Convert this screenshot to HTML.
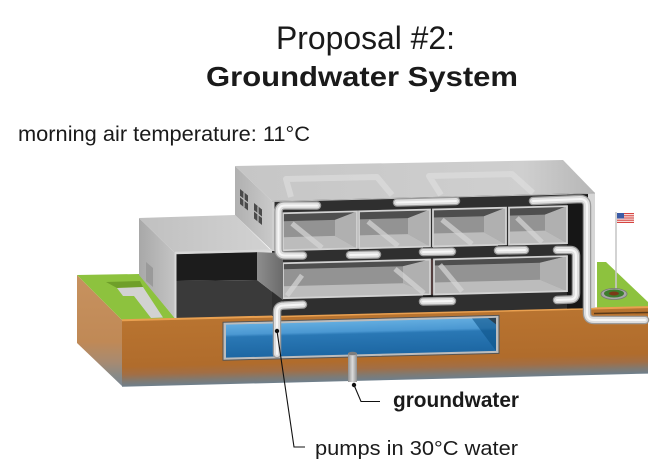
<!DOCTYPE html>
<html><head><meta charset="utf-8">
<style>
html,body{margin:0;padding:0;background:#fff;}
svg{display:block;}
text{font-family:"Liberation Sans",Arial,sans-serif;fill:#1a1a1a;}
</style></head>
<body>
<svg width="668" height="476" viewBox="0 0 668 476" xmlns="http://www.w3.org/2000/svg">
<defs>
  <linearGradient id="soilF" x1="0" y1="0" x2="0" y2="1">
    <stop offset="0" stop-color="#b97430"/>
    <stop offset="0.7" stop-color="#b06c2c"/>
    <stop offset="0.82" stop-color="#a26e45"/>
    <stop offset="0.92" stop-color="#807a72"/>
    <stop offset="1" stop-color="#6e7f8c"/>
  </linearGradient>
  <linearGradient id="soilL" x1="0" y1="0" x2="0" y2="1">
    <stop offset="0" stop-color="#c7925f"/>
    <stop offset="0.6" stop-color="#c08956"/>
    <stop offset="0.78" stop-color="#a88a70"/>
    <stop offset="0.9" stop-color="#8a8a86"/>
    <stop offset="1" stop-color="#7b8793"/>
  </linearGradient>
  <linearGradient id="roofG" x1="0" y1="0" x2="1" y2="0">
    <stop offset="0" stop-color="#c6c6c6"/>
    <stop offset="0.8" stop-color="#cfcfcf"/>
    <stop offset="1" stop-color="#b6b6b6"/>
  </linearGradient>
  <linearGradient id="mainL" x1="0" y1="0" x2="1" y2="0">
    <stop offset="0" stop-color="#b0b0b0"/>
    <stop offset="1" stop-color="#c9c9c9"/>
  </linearGradient>
  <linearGradient id="annexL" x1="0" y1="0" x2="1" y2="0">
    <stop offset="0" stop-color="#a8a8a8"/>
    <stop offset="1" stop-color="#c4c4c4"/>
  </linearGradient>
  <linearGradient id="annexT" x1="0" y1="0" x2="1" y2="0">
    <stop offset="0" stop-color="#c0c0c0"/>
    <stop offset="1" stop-color="#d2d2d2"/>
  </linearGradient>
  <linearGradient id="wallG" x1="0" y1="0" x2="1" y2="0">
    <stop offset="0" stop-color="#8e8e8e"/>
    <stop offset="1" stop-color="#6a6a6a"/>
  </linearGradient>
  <linearGradient id="waterG" x1="0" y1="0" x2="0" y2="1">
    <stop offset="0" stop-color="#62acdf"/>
    <stop offset="0.3" stop-color="#4b98d2"/>
    <stop offset="0.38" stop-color="#2a78b5"/>
    <stop offset="1" stop-color="#1d67a3"/>
  </linearGradient>
  <linearGradient id="wellG" x1="0" y1="0" x2="1" y2="0">
    <stop offset="0" stop-color="#8f8f8f"/>
    <stop offset="0.5" stop-color="#dcdcdc"/>
    <stop offset="1" stop-color="#8f8f8f"/>
  </linearGradient>
  <path id="pA" d="M317,205.5 L285,205.5 Q278.5,205.5 278.5,212 L278.5,249 Q278.5,255.5 285,255.5 L303,255.5"/>
  <path id="pB" d="M277,354 L277,312 Q277,305.5 284,305.5 L303,304.5"/>
  <path id="pC" d="M533,201 L580,199 Q587,199 587,206 L587,313 Q587,320 594,320 L645,320"/>
  <path id="pD" d="M557,250 L570,250 Q576,250 576,256 L576,293 Q576,299.5 570,299.5 L557,300"/>
  <path id="c1" d="M397,202.5 L456,201"/>
  <path id="c2" d="M350,255 L377,254.5"/>
  <path id="c3" d="M423,252 L452,251.5"/>
  <path id="c4" d="M498,250.5 L525,250"/>
  <path id="c5" d="M423,301.5 L452,301"/>
</defs>

<!-- Titles -->
<text x="276" y="49" font-size="32" textLength="179" lengthAdjust="spacingAndGlyphs">Proposal #2:</text>
<text x="206" y="86" font-size="28" font-weight="bold" textLength="312" lengthAdjust="spacingAndGlyphs">Groundwater System</text>
<text x="18" y="141" font-size="21" textLength="292" lengthAdjust="spacingAndGlyphs">morning air temperature: 11°C</text>

<!-- Slab left face -->
<polygon points="77,275 122,320 122,386 77,343" fill="url(#soilL)"/>
<!-- Left lawn -->
<polygon points="77,275 139,274 175,318.4 122,320" fill="#8dc23e"/>
<polygon points="106,282 140,281 143,287 117,288" fill="#6f9f2a"/>
<polygon points="117,288 143,287 163,317.5 151,318 134,296 123,296" fill="#d2d2d2"/>
<!-- Right lawn -->
<polygon points="597,262 606,262 648,302 648,307 597,308" fill="#8dc23e"/>

<!-- Annex -->
<polygon points="139,218 175,253 175,318.4 139,275" fill="url(#annexL)"/>
<polygon points="146,262 153,268 153,287 146,281" fill="#9a9a9a"/>
<polygon points="139,218 235,215 271,250.5 175,253" fill="url(#annexT)"/>
<polygon points="176,254 257,252 257,280 176,281" fill="#1c1c1c"/>
<polygon points="176,281 257,280 283,300 283,316 176,318.5" fill="#3a3a3a"/>

<!-- Main building left face & roof -->
<polygon points="235,166 272,201 272,250.5 235,215" fill="url(#mainL)"/>
<polygon points="240,189 248,195.5 248,210.5 240,204" fill="#4a4a4a"/>
<line x1="244" y1="192.3" x2="244" y2="207.3" stroke="#bdbdbd" stroke-width="1.2"/>
<line x1="240" y1="196.5" x2="248" y2="203" stroke="#bdbdbd" stroke-width="1.2"/>
<polygon points="254,203 262,209.5 262,225 254,218.5" fill="#4a4a4a"/>
<line x1="258" y1="206.3" x2="258" y2="221.8" stroke="#bdbdbd" stroke-width="1.2"/>
<line x1="254" y1="210.8" x2="262" y2="217.3" stroke="#bdbdbd" stroke-width="1.2"/>
<polygon points="235,166 563,160 595,193 272,201" fill="url(#roofG)"/>
<path d="M291,197 L286,179 L377,177 L392,195" fill="none" stroke="#e0e0e0" stroke-width="6" stroke-linejoin="round" opacity="0.6"/>
<path d="M441,195 L429,176 L512,174 L533,193" fill="none" stroke="#e0e0e0" stroke-width="6" stroke-linejoin="round" opacity="0.6"/>

<!-- Front-facing (skewed) group -->
<g transform="matrix(1,-0.025,0,1,0,6.8)">
  <rect x="122" y="316" width="526" height="67" fill="url(#soilF)"/>
  <line x1="122" y1="316.5" x2="648" y2="316.5" stroke="#e9a050" stroke-width="2"/>
  <rect x="272" y="201" width="323" height="115" fill="#2f2f2f"/>
  <rect x="567" y="201" width="21" height="115" fill="#161616"/>
  <rect x="588" y="201" width="7" height="115" fill="#d6d6d6"/>
  <rect x="272" y="201" width="2.5" height="50" fill="#cfcfcf"/>
  <line x1="272" y1="201.5" x2="595" y2="201.5" stroke="#bdbdbd" stroke-width="1"/>

  <g>
    <rect x="283" y="213.5" width="74" height="37" fill="#939393"/>
    <polygon points="283,213.5 357,213.5 335,221.5 283,221.5" fill="#4e4e4e"/>
    <polygon points="357,213.5 357,250.5 335,237.5 335,221.5" fill="#b0b0b0"/>
    <polygon points="283,237.5 335,237.5 357,250.5 283,250.5" fill="#bcbcbc"/>
    <line x1="292" y1="224" x2="322" y2="249" stroke="#d6d6d6" stroke-width="5" opacity="0.7"/>
    <rect x="283" y="213.5" width="74" height="37" fill="none" stroke="#d2d2d2" stroke-width="1.8"/>

    <rect x="359" y="213.5" width="71" height="37" fill="#939393"/>
    <polygon points="359,213.5 430,213.5 408,221.5 359,221.5" fill="#4e4e4e"/>
    <polygon points="430,213.5 430,250.5 408,237.5 408,221.5" fill="#b0b0b0"/>
    <polygon points="359,237.5 408,237.5 430,250.5 359,250.5" fill="#bcbcbc"/>
    <line x1="368" y1="224" x2="398" y2="249" stroke="#d6d6d6" stroke-width="5" opacity="0.7"/>
    <rect x="359" y="213.5" width="71" height="37" fill="none" stroke="#d2d2d2" stroke-width="1.8"/>

    <rect x="433" y="213.5" width="73" height="37" fill="#939393"/>
    <polygon points="433,213.5 506,213.5 484,221.5 433,221.5" fill="#4e4e4e"/>
    <polygon points="506,213.5 506,250.5 484,237.5 484,221.5" fill="#b0b0b0"/>
    <polygon points="433,237.5 484,237.5 506,250.5 433,250.5" fill="#bcbcbc"/>
    <line x1="442" y1="224" x2="472" y2="249" stroke="#d6d6d6" stroke-width="5" opacity="0.7"/>
    <rect x="433" y="213.5" width="73" height="37" fill="none" stroke="#d2d2d2" stroke-width="1.8"/>

    <rect x="509" y="213.5" width="58" height="37" fill="#939393"/>
    <polygon points="509,213.5 567,213.5 545,221.5 509,221.5" fill="#4e4e4e"/>
    <polygon points="567,213.5 567,250.5 545,237.5 545,221.5" fill="#b0b0b0"/>
    <polygon points="509,237.5 545,237.5 567,250.5 509,250.5" fill="#bcbcbc"/>
    <line x1="517" y1="224" x2="542" y2="249" stroke="#d6d6d6" stroke-width="5" opacity="0.7"/>
    <rect x="509" y="213.5" width="58" height="37" fill="none" stroke="#d2d2d2" stroke-width="1.8"/>
  </g>

  <g>
    <rect x="283" y="263.5" width="147" height="35" fill="#939393"/>
    <polygon points="283,263.5 430,263.5 403,269.5 283,269.5" fill="#4e4e4e"/>
    <polygon points="430,263.5 430,298.5 403,286.5 403,269.5" fill="#b0b0b0"/>
    <polygon points="283,286.5 403,286.5 430,298.5 283,298.5" fill="#bcbcbc"/>
    <line x1="395" y1="272" x2="424" y2="297" stroke="#d6d6d6" stroke-width="5" opacity="0.7"/>
    <line x1="287" y1="296" x2="302" y2="276" stroke="#d6d6d6" stroke-width="5" opacity="0.7"/>
    <rect x="283" y="263.5" width="147" height="35" fill="none" stroke="#d2d2d2" stroke-width="1.8"/>

    <rect x="434" y="263.5" width="133" height="35" fill="#939393"/>
    <polygon points="434,263.5 567,263.5 540,269.5 434,269.5" fill="#4e4e4e"/>
    <polygon points="567,263.5 567,298.5 540,286.5 540,269.5" fill="#b0b0b0"/>
    <polygon points="434,286.5 540,286.5 567,298.5 434,298.5" fill="#bcbcbc"/>
    <line x1="440" y1="269" x2="462" y2="296" stroke="#d6d6d6" stroke-width="5" opacity="0.7"/>
    <rect x="434" y="263.5" width="133" height="35" fill="none" stroke="#d2d2d2" stroke-width="1.8"/>
    <line x1="432" y1="263.5" x2="432" y2="298.5" stroke="#6d4a4a" stroke-width="1.2"/>
  </g>

  <rect x="349" y="251" width="10" height="3" fill="#1a1a1a"/>
  <rect x="423" y="251" width="10" height="3" fill="#1a1a1a"/>
  <rect x="498" y="251" width="10" height="3" fill="#1a1a1a"/>
  <rect x="423" y="299" width="10" height="3" fill="#1a1a1a"/>

  <rect x="223" y="321" width="276" height="38" fill="#bcbcbc" stroke="#555" stroke-width="1"/>
  <rect x="226" y="323.5" width="270" height="33" fill="url(#waterG)"/>
  <polygon points="472,323.5 496,323.5 496,356.5" fill="#0e5488" opacity="0.6"/>
  <polygon points="488,323.5 496,323.5 496,330" fill="#2b2b2b" opacity="0.7"/>
</g>

<polygon points="257,252 283,253 283,300 257,280" fill="url(#wallG)"/>
<line x1="175.5" y1="253" x2="175.5" y2="318" stroke="#d8d8d8" stroke-width="2"/>
<line x1="175" y1="253" x2="272" y2="250.5" stroke="#d8d8d8" stroke-width="2.5"/>

<line x1="594" y1="313.5" x2="648" y2="312.5" stroke="#5a3a1a" stroke-width="1.4"/>

<rect x="348" y="353" width="9" height="29" fill="url(#wellG)"/>
<ellipse cx="352.5" cy="353.5" rx="4.5" ry="1.8" fill="#7d7d7d"/>

<g fill="none" stroke-linecap="round" stroke-linejoin="round">
  <g stroke="#9a9a9a" stroke-width="8.5">
    <use href="#pA"/><use href="#pB"/><use href="#pC"/><use href="#pD"/>
    <use href="#c1"/><use href="#c2"/><use href="#c3"/><use href="#c4"/><use href="#c5"/>
  </g>
  <g stroke="#dedede" stroke-width="6">
    <use href="#pA"/><use href="#pB"/><use href="#pC"/><use href="#pD"/>
    <use href="#c1"/><use href="#c2"/><use href="#c3"/><use href="#c4"/><use href="#c5"/>
  </g>
  <g stroke="#f6f6f6" stroke-width="2">
    <use href="#pA"/><use href="#pB"/><use href="#pC"/><use href="#pD"/>
    <use href="#c1"/><use href="#c2"/><use href="#c3"/><use href="#c4"/><use href="#c5"/>
  </g>
</g>

<line x1="616" y1="212" x2="616" y2="293" stroke="#c8c8c8" stroke-width="1.6"/>
<rect x="617" y="213" width="17" height="10" fill="#fff"/>
<rect x="617" y="213" width="17" height="1.2" fill="#d64541"/>
<rect x="617" y="215.2" width="17" height="1.2" fill="#d64541"/>
<rect x="617" y="217.4" width="17" height="1.2" fill="#d64541"/>
<rect x="617" y="219.6" width="17" height="1.2" fill="#d64541"/>
<rect x="617" y="221.8" width="17" height="1.2" fill="#d64541"/>
<rect x="617" y="213" width="7" height="5.5" fill="#3b5ba5"/>
<ellipse cx="614" cy="294" rx="13" ry="5.5" fill="#a8a8a8" stroke="#777" stroke-width="0.8"/>
<ellipse cx="614" cy="293.5" rx="10" ry="4" fill="#3d7d2e"/>
<ellipse cx="614" cy="293.5" rx="5" ry="2" fill="#7b3a18"/>

<polyline points="354,385 361,401.5 380,401.5" fill="none" stroke="#111" stroke-width="1.1"/>
<circle cx="354" cy="385" r="2.2" fill="#111"/>
<polyline points="277,331 294,447 305,447" fill="none" stroke="#111" stroke-width="1.1"/>
<circle cx="277" cy="331" r="2.2" fill="#111"/>

<text x="393" y="407" font-size="21" font-weight="bold" textLength="126" lengthAdjust="spacingAndGlyphs">groundwater</text>
<text x="315" y="455" font-size="20" textLength="203" lengthAdjust="spacingAndGlyphs">pumps in 30°C water</text>
</svg>
</body></html>
